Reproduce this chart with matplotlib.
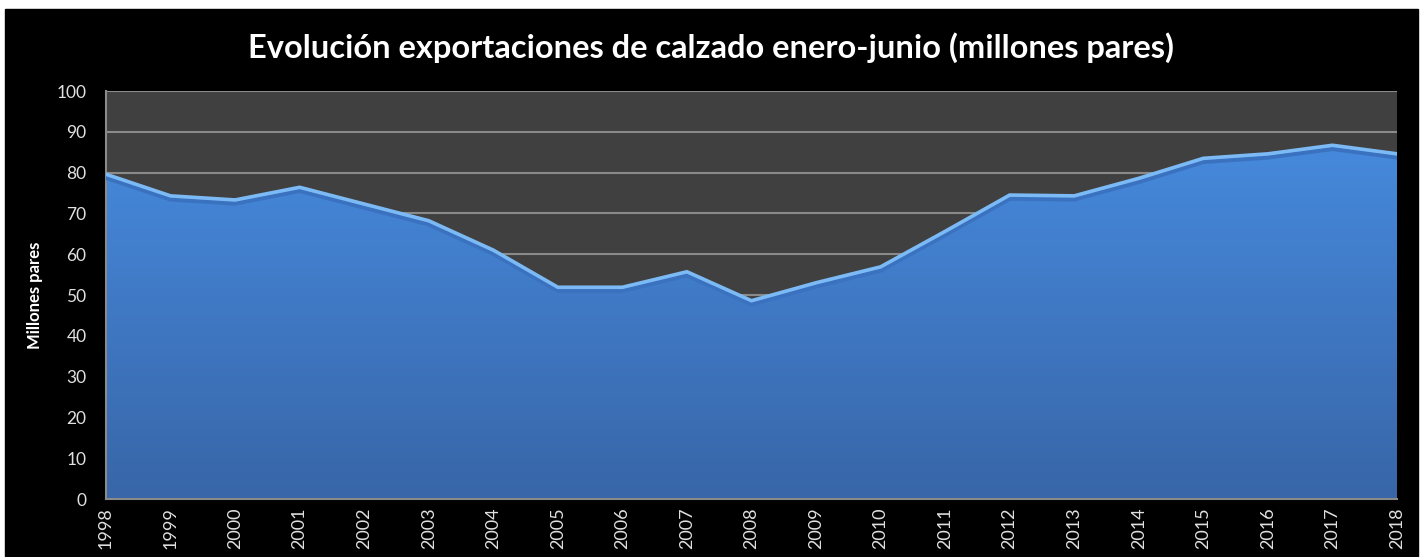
import numpy as np
import matplotlib.pyplot as plt
from matplotlib.patches import Rectangle
from matplotlib.colors import LinearSegmentedColormap

# data
years = list(range(1998, 2019))
pares = [79.6, 74.3, 73.3, 76.4, 72.3, 68.2, 61.0, 51.9, 51.9, 55.7, 48.6,
         53.0, 56.9, 65.6, 74.5, 74.3, 78.6, 83.5, 84.6, 86.7, 84.6]
y_ticks = list(range(0, 101, 10))

plt.rcParams['font.family'] = ['Lato', 'DejaVu Sans']

fig = plt.figure(figsize=(14.23, 5.57), dpi=100, facecolor='white')
# black chart area with small white margin
fig.patches.append(Rectangle((5 / 1423, 0), 1413 / 1423, 548 / 557,
                             transform=fig.transFigure, color='black', zorder=-10))

ax = fig.add_axes([106 / 1423, 1 - 499 / 557, 1291 / 1423, 408 / 557])
ax.set_facecolor('#404040')

# gradient fill clipped to the area
poly = ax.fill_between(years, pares, 0, color='none')
grad = np.linspace(0, 1, 256).reshape(-1, 1)
cmap = LinearSegmentedColormap.from_list('blu', ['#3866a8', '#4689dc'])
im = ax.imshow(grad, cmap=cmap, aspect='auto', origin='lower',
               extent=[years[0], years[-1], 0, max(pares)], zorder=2)
path = poly.get_paths()[0]
im.set_clip_path(path, transform=ax.transData)

# shading and highlight of the top edge
ax.plot(years, np.array(pares) - 0.9, color='#3a72c0', lw=3, zorder=3,
        solid_joinstyle='miter')
ax.plot(years, pares, color='#7cbaf6', lw=2.6, zorder=4, solid_joinstyle='miter')

ax.set_xlim(years[0], years[-1])
ax.set_ylim(0, 100)
ax.set_yticks(y_ticks)
ax.set_xticks(years)
ax.set_xticklabels([str(y) for y in years], rotation=90)
ax.grid(axis='y', color='#8a8a8a', lw=1.5, zorder=1)
ax.set_axisbelow(True)
ax.tick_params(colors='#e0e0e0', labelsize=12.5, length=0, pad=6)
ax.tick_params(axis='x', labelsize=13)
ax.tick_params(axis='y', pad=14)
for s in ['top', 'right']:
    ax.spines[s].set_visible(False)
for s in ['left', 'bottom']:
    ax.spines[s].set_color('#8a8a8a')
    ax.spines[s].set_linewidth(1.5)

ax.set_ylabel('Millones pares', color='white', fontsize=12, fontweight='bold',
              labelpad=10)
fig.text(0.5, 1 - 48 / 557, 'Evolución exportaciones de calzado enero-junio (millones pares)',
         color='white', fontsize=23.5, fontweight='bold', ha='center', va='center')

fig.savefig('out.png', dpi=100, facecolor='white')
